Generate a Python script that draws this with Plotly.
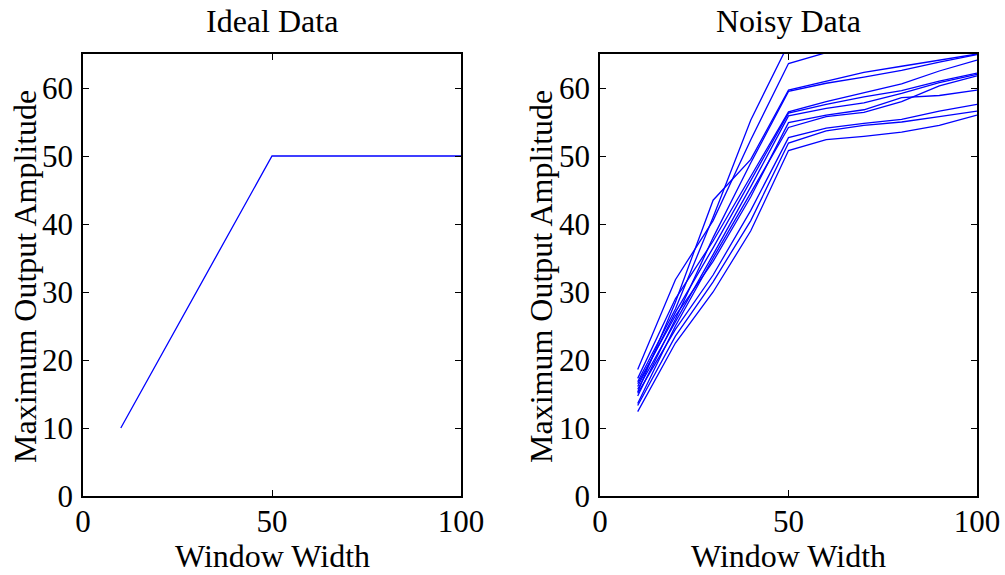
import plotly.graph_objects as go

# ---------------- data ----------------
window_width = [10, 20, 30, 40, 50, 60, 70, 80, 90, 100]
ideal_amplitude = [10, 20, 30, 40, 50, 50, 50, 50, 50, 50]

noisy_a = [16.8, 27.5, 41.0, 55.3, 66.5, 68.0, 69.0, 70.0, 71.0, 72.0]
noisy_b = [18.6, 31.8, 40.5, 52.4, 63.6, 65.2, 66.5, 67.5, 68.5, 69.5]
noisy_c = [15.3, 28.5, 43.5, 49.5, 59.7, 61.0, 62.3, 63.2, 64.1, 65.0]
noisy_d = [14.7, 26.0, 38.0, 49.0, 59.5, 60.7, 61.6, 62.6, 63.8, 64.9]
noisy_e = [17.3, 29.0, 37.5, 47.0, 56.5, 58.0, 59.3, 60.6, 62.5, 64.1]
noisy_f = [16.1, 27.0, 36.5, 46.5, 56.3, 57.6, 58.7, 59.6, 61.0, 62.2]
noisy_g = [15.7, 25.5, 35.5, 45.5, 55.9, 57.0, 57.8, 59.2, 60.8, 62.0]
noisy_h = [16.5, 26.5, 34.5, 44.0, 54.9, 56.0, 56.8, 58.6, 58.9, 59.7]
noisy_i = [13.6, 25.0, 35.0, 44.5, 54.2, 55.8, 56.4, 58.0, 60.3, 61.8]
noisy_j = [15.1, 24.5, 32.5, 42.0, 52.7, 54.1, 54.8, 55.4, 56.6, 57.6]
noisy_k = [13.3, 23.5, 31.5, 40.5, 51.9, 53.7, 54.5, 55.0, 55.8, 56.6]
noisy_l = [12.4, 22.5, 30.0, 39.0, 50.8, 52.4, 52.9, 53.5, 54.5, 56.0]
noisy_series = [noisy_a, noisy_b, noisy_c, noisy_d, noisy_e, noisy_f,
                noisy_g, noisy_h, noisy_i, noisy_j, noisy_k, noisy_l]

x_ticks = [0, 50, 100]
y_ticks = [0, 10, 20, 30, 40, 50, 60]
titles = ["Ideal Data", "Noisy Data"]
x_label = "Window Width"
y_label = "Maximum Output Amplitude"

# ---------------- figure ----------------
W, H = 1005, 575
FONT = "Liberation Serif, Times New Roman, serif"
FS = 32
TICK_FS = 31
LINE = dict(color="#0000ff", width=1.3)

fig = go.Figure()
fig.add_trace(go.Scatter(x=window_width, y=ideal_amplitude, mode="lines",
                         line=LINE, xaxis="x", yaxis="y", showlegend=False))
for s in noisy_series:
    fig.add_trace(go.Scatter(x=window_width, y=s, mode="lines", line=LINE,
                             xaxis="x2", yaxis="y2", showlegend=False))

left_px = (83, 461)
right_px = (600, 977)
top_px, bot_px = 54, 496
ydom = [1 - bot_px / H, 1 - top_px / H]

axis_common = dict(showgrid=False, zeroline=False, showline=True,
                   linecolor="black", linewidth=1.5, mirror="ticks",
                   ticks="inside", ticklen=6, tickwidth=1, tickcolor="black",
                   automargin=False,
                   tickfont=dict(family=FONT, size=TICK_FS, color="black"))

xax = dict(axis_common, range=[0, 100], tickvals=x_ticks, ticklabelstandoff=-3)
yax = dict(axis_common, range=[0, 65], tickvals=y_ticks, ticklabelstandoff=2)

fig.update_layout(
    template="none",
    width=W, height=H,
    margin=dict(l=0, r=0, t=0, b=0, pad=0, autoexpand=False),
    paper_bgcolor="white", plot_bgcolor="white",
    xaxis=dict(xax, domain=[left_px[0] / W, left_px[1] / W], anchor="y"),
    yaxis=dict(yax, domain=ydom, anchor="x"),
    xaxis2=dict(xax, domain=[right_px[0] / W, right_px[1] / W], anchor="y2"),
    yaxis2=dict(yax, domain=ydom, anchor="x2"),
)

ann = []
for (l, r), t, ylab_x in [(left_px, titles[0], 25), (right_px, titles[1], 541)]:
    cx = (l + r) / 2 / W
    ann.append(dict(text=t, x=cx, y=1 - 21 / H, xref="paper", yref="paper",
                    xanchor="center", yanchor="middle", showarrow=False,
                    font=dict(family=FONT, size=FS, color="black")))
    ann.append(dict(text=x_label, x=cx, y=0, xref="paper", yref="paper",
                    xanchor="center", yanchor="bottom", showarrow=False,
                    borderpad=0,
                    font=dict(family=FONT, size=FS, color="black")))
    ann.append(dict(text=y_label, x=ylab_x / W, y=1 - 277 / H, xref="paper",
                    yref="paper", xanchor="center", yanchor="middle",
                    textangle=-90, showarrow=False,
                    font=dict(family=FONT, size=FS, color="black")))
fig.update_layout(annotations=ann)

fig.write_html("out.html")
